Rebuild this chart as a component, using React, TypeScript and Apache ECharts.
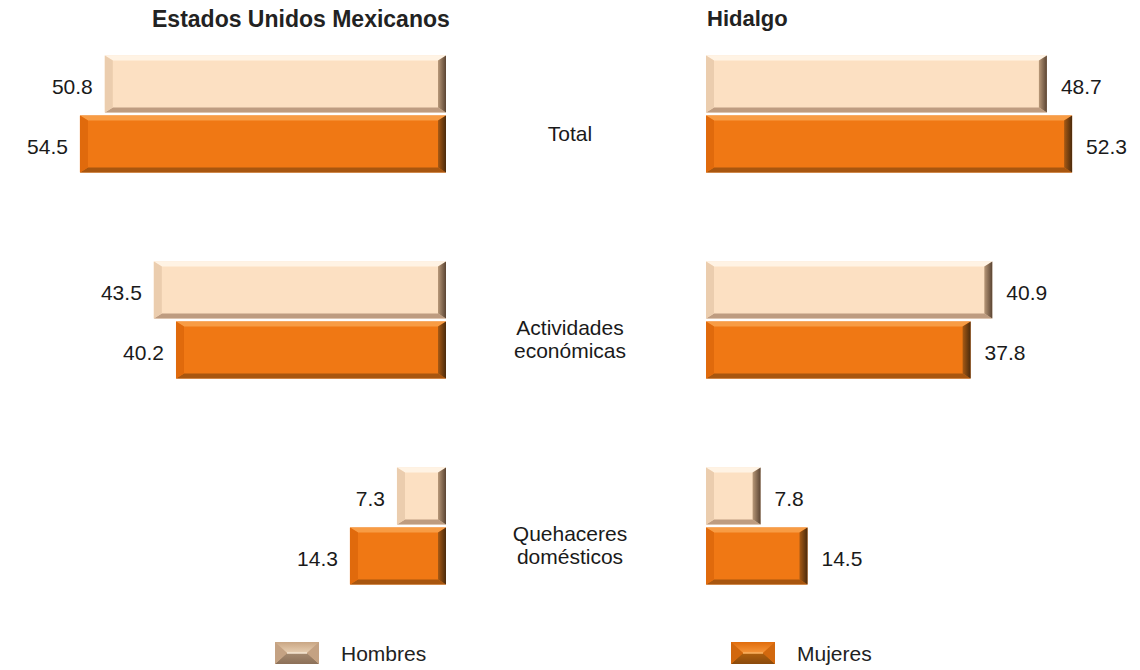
import React, { useEffect, useRef } from "react";
import * as echarts from "echarts";

const categories = ["Total", "Actividades\neconómicas", "Quehaceres\ndomésticos"];
const seriesNames = ["Hombres", "Mujeres"];
const panelTitles = ["Estados Unidos Mexicanos", "Hidalgo"];
const eumHombres = [50.8, 43.5, 7.3];
const eumMujeres = [54.5, 40.2, 14.3];
const hgoHombres = [48.7, 40.9, 7.8];
const hgoMujeres = [52.3, 37.8, 14.5];
const axisMax = 60;

const FONT = "'Liberation Sans', Arial, Helvetica, sans-serif";

type Pal = { base: string; top: string; bottom: string; left: string; rightA: string; rightB: string };
const palH: Pal = { base: "#FCE0C2", top: "#FFF3E4", bottom: "#BE9C80", left: "#EBCDAE", rightA: "#B89878", rightB: "#5A4433" };
const palM: Pal = { base: "#F07814", top: "#F89C44", bottom: "#A8560F", left: "#E06A0C", rightA: "#A85A14", rightB: "#4A2A0C" };

const BAR_H = 57;
const BEV_V = 5;
const BEV_H = 8;

function makeRender(offset: number, pal: Pal, side: "left" | "right") {
  return (params: any, api: any) => {
    const val = api.value(0);
    const cat = api.value(1);
    const p0 = api.coord([0, cat]);
    const p1 = api.coord([val, cat]);
    const x0 = Math.min(p0[0], p1[0]);
    const x1 = Math.max(p0[0], p1[0]);
    const cy = p0[1] + offset;
    const y0 = cy - BAR_H / 2;
    const y1 = cy + BAR_H / 2;
    const b = Math.min(BEV_H, (x1 - x0) / 2);
    const v = BEV_V;
    const rightGrad = new echarts.graphic.LinearGradient(0, 0, 1, 0, [
      { offset: 0, color: pal.rightA },
      { offset: 1, color: pal.rightB },
    ]);
    const children: any[] = [
      { type: "rect", shape: { x: x0, y: y0, width: x1 - x0, height: y1 - y0 }, style: { fill: pal.base } },
      { type: "polygon", shape: { points: [[x0, y0], [x1, y0], [x1 - b, y0 + v], [x0 + b, y0 + v]] }, style: { fill: pal.top } },
      { type: "polygon", shape: { points: [[x0, y1], [x1, y1], [x1 - b, y1 - v], [x0 + b, y1 - v]] }, style: { fill: pal.bottom } },
      { type: "polygon", shape: { points: [[x0, y0], [x0 + b, y0 + v], [x0 + b, y1 - v], [x0, y1]] }, style: { fill: pal.left } },
      { type: "polygon", shape: { points: [[x1, y0], [x1 - b, y0 + v], [x1 - b, y1 - v], [x1, y1]] }, style: { fill: rightGrad } },
      {
        type: "text",
        style: {
          text: Number(val).toFixed(1),
          x: side === "left" ? x0 - 12 : x1 + 14,
          y: cy + 2,
          align: side === "left" ? "right" : "left",
          verticalAlign: "middle",
          fontSize: 21,
          fontFamily: FONT,
          fill: "#1a1a1a",
        },
      },
    ];
    return { type: "group", children };
  };
}

function legendIcon(x: number, y: number, w: number, h: number, c: any) {
  const b = 12;
  const m = y + h / 2;
  return {
    type: "group",
    z: 100,
    children: [
      { type: "polygon", z: 100, shape: { points: [[x, y], [x + w, y], [x + w - b, m], [x + b, m]] }, style: { fill: new echarts.graphic.LinearGradient(0, 0, 0, 1, [{ offset: 0, color: c.t1 }, { offset: 1, color: c.t2 }]) } },
      { type: "polygon", z: 100, shape: { points: [[x, y + h], [x + w, y + h], [x + w - b, m], [x + b, m]] }, style: { fill: new echarts.graphic.LinearGradient(0, 0, 0, 1, [{ offset: 0, color: c.b1 }, { offset: 1, color: c.b2 }]) } },
      { type: "polygon", z: 100, shape: { points: [[x, y], [x + b, m], [x, y + h]] }, style: { fill: c.s } },
      { type: "polygon", z: 100, shape: { points: [[x + w, y], [x + w - b, m], [x + w, y + h]] }, style: { fill: c.s } },
      { type: "line", z: 100, shape: { x1: x + b, y1: m, x2: x + w - b, y2: m }, style: { stroke: c.l, lineWidth: 1.5 } },
    ],
  };
}

export default function App() {
  const ref = useRef<HTMLDivElement>(null);
  useEffect(() => {
    if (!ref.current) return;
    const chart = echarts.init(ref.current, null, { renderer: "svg" });
    const toData = (arr: number[]) => arr.map((v, i) => [v, i]);
    const option: any = {
      animation: false,
      backgroundColor: "#ffffff",
      textStyle: { fontFamily: FONT },
      title: [
        { text: panelTitles[0], left: 152, top: 7, padding: 0, textStyle: { fontSize: 23, fontWeight: "bold", color: "#222", fontFamily: FONT } },
        { text: panelTitles[1], left: 707, top: 7, padding: 0, textStyle: { fontSize: 22, fontWeight: "bold", color: "#222", fontFamily: FONT } },
      ],
      legend: [
        {
          data: [{ name: seriesNames[0], icon: "rect", itemStyle: { color: "#D4B290" } }],
          left: 275, top: 642, itemWidth: 44, itemHeight: 22, padding: 0,
          selectedMode: false,
          textStyle: { fontSize: 21, color: "#222", fontFamily: FONT, padding: [0, 0, 0, 17] },
        },
        {
          data: [{ name: seriesNames[1], icon: "rect", itemStyle: { color: "#E87414" } }],
          left: 731, top: 642, itemWidth: 44, itemHeight: 22, padding: 0,
          selectedMode: false,
          textStyle: { fontSize: 21, color: "#222", fontFamily: FONT, padding: [0, 0, 0, 17] },
        },
      ],
      grid: [
        { left: 43, width: 403, top: 11, height: 618 },
        { left: 706, width: 420, top: 11, height: 618 },
        { left: 706, width: 420, top: 30, height: 618 },
      ],
      xAxis: [
        { type: "value", gridIndex: 0, min: 0, max: axisMax, inverse: true, show: false },
        { type: "value", gridIndex: 1, min: 0, max: axisMax, show: false },
        { type: "value", gridIndex: 2, min: 0, max: axisMax, show: false },
      ],
      yAxis: [
        { type: "category", gridIndex: 0, data: categories, inverse: true, show: false },
        { type: "category", gridIndex: 1, data: categories, inverse: true, show: false },
        {
          type: "category", gridIndex: 2, data: categories, inverse: true,
          axisLine: { show: false }, axisTick: { show: false }, splitLine: { show: false },
          axisLabel: {
            align: "center", margin: 136, fontSize: 21, lineHeight: 23, color: "#1a1a1a",
            fontFamily: FONT,
          },
        },
      ],
      series: [
        { type: "custom", name: seriesNames[0], xAxisIndex: 0, yAxisIndex: 0, data: toData(eumHombres), encode: { x: 0, y: 1 }, itemStyle: { color: palH.base }, renderItem: makeRender(-30, palH, "left") },
        { type: "custom", name: seriesNames[1], xAxisIndex: 0, yAxisIndex: 0, data: toData(eumMujeres), encode: { x: 0, y: 1 }, itemStyle: { color: palM.base }, renderItem: makeRender(30, palM, "left") },
        { type: "custom", name: seriesNames[0], xAxisIndex: 1, yAxisIndex: 1, data: toData(hgoHombres), encode: { x: 0, y: 1 }, itemStyle: { color: palH.base }, renderItem: makeRender(-30, palH, "right") },
        { type: "custom", name: seriesNames[1], xAxisIndex: 1, yAxisIndex: 1, data: toData(hgoMujeres), encode: { x: 0, y: 1 }, itemStyle: { color: palM.base }, renderItem: makeRender(30, palM, "right") },
      ],
      graphic: [
        legendIcon(275, 642, 44, 22, { t1: "#C9A684", t2: "#E8CFB2", b1: "#A58A70", b2: "#8C7058", s: "#C4A283", l: "#F6E6D2" }),
        legendIcon(731, 642, 44, 22, { t1: "#E06C0C", t2: "#F6963A", b1: "#B0600E", b2: "#8A4A0C", s: "#D2680E", l: "#FAB060" }),
      ],
    };
    chart.setOption(option);
    return () => chart.dispose();
  }, []);
  return <div ref={ref} style={{ position: "fixed", left: 0, top: 0, width: 1140, height: 670 }} />;
}
